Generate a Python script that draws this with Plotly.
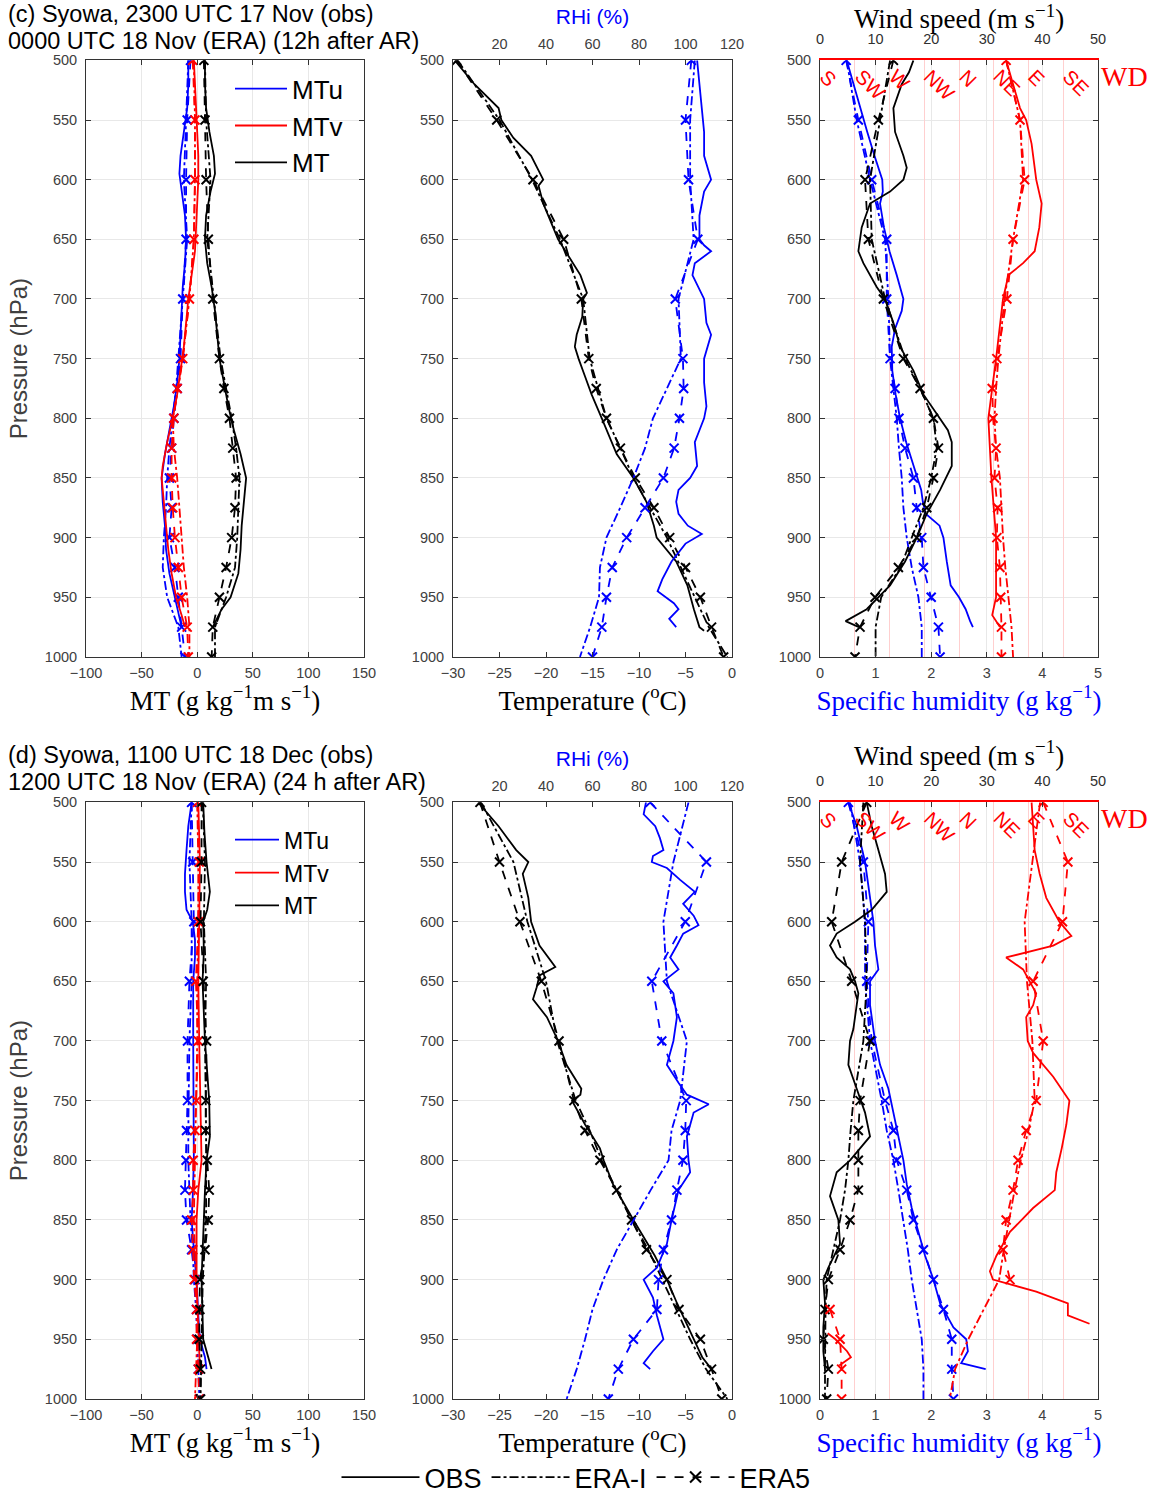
import plotly.graph_objects as go

# ---------------- data ----------------
P_ERA = [500, 550, 600, 650, 700, 750, 775, 800, 825, 850, 875, 900, 925, 950, 975, 1000]
P_TICKS = [500, 550, 600, 650, 700, 750, 800, 850, 900, 950, 1000]
MT_TICKS = [-100, -50, 0, 50, 100, 150]
T_TICKS = [-30, -25, -20, -15, -10, -5, 0]
RHI_TICKS = [20, 40, 60, 80, 100, 120]
Q_TICKS = [0, 1, 2, 3, 4, 5]
WS_TICKS = [0, 10, 20, 30, 40, 50]
WD_LABELS = ["S", "SW", "W", "NW", "N", "NE", "E", "SE"]
WD_DEGREES = [180, 225, 270, 315, 360, 405, 450, 495]

# ---- (c) row: MT components ----
c_mtu_obs_p = [500, 520, 540, 560, 580, 595, 610, 630, 650, 670, 690, 710, 730, 750, 770, 790, 810, 830, 850, 870, 890, 910, 930, 950, 965, 975]
c_mtu_obs = [-8, -8, -9, -12, -15, -16, -14, -11, -10, -11, -13, -14, -15, -16, -18, -21, -25, -29, -32, -31, -29, -28, -25, -20, -16, -14]
c_mtv_obs_p = [500, 520, 540, 560, 580, 600, 620, 640, 660, 680, 700, 720, 740, 760, 780, 800, 820, 840, 850, 870, 890, 910, 930, 950, 965, 975]
c_mtv_obs = [-3, -2, -1, 0, 1, 1, 0, -1, -2, -5, -8, -10, -12, -15, -18, -22, -27, -31, -32, -30, -28, -26, -23, -19, -14, -11]
c_mt_obs_p = [500, 520, 540, 560, 580, 595, 610, 630, 650, 670, 690, 710, 730, 750, 770, 790, 810, 830, 850, 870, 890, 910, 930, 950, 960, 975]
c_mt_obs = [7, 7, 8, 11, 15, 16, 12, 8, 7, 9, 13, 16, 18, 20, 24, 28, 33, 39, 44, 42, 40, 39, 37, 30, 22, 14]
c_mtu_erai = [-8, -10, -12, -9, -13, -17, -19, -22, -25, -27, -28, -30, -31, -27, -17, -14]
c_mtv_erai = [-3, -2, -2, -3, -7, -13, -17, -22, -21, -18, -16, -14, -12, -9, -7, -7]
c_mt_erai = [7, 8, 12, 9, 15, 21, 26, 31, 35, 38, 37, 36, 34, 26, 16, 16]
c_mtu_era5 = [-6, -9, -10, -10, -13, -15, -18, -21, -23, -25, -23, -25, -20, -17, -14, -11]
c_mtv_era5 = [-4, -2, -2, -3, -7, -13, -18, -21, -23, -23, -22, -20, -17, -14, -9, -8]
c_mt_era5 = [6, 7, 8, 10, 14, 20, 24, 29, 32, 35, 34, 31, 26, 20, 14, 13]

# ---- (c) row: temperature and RHi ----
c_t_obs_p = [500, 520, 540, 550, 565, 580, 600, 605, 620, 635, 650, 665, 680, 695, 700, 715, 730, 740, 750, 765, 780, 800, 815, 830, 850, 870, 890, 900, 920, 940, 960, 975, 978]
c_t_obs = [-29.8, -27.7, -25.1, -24.8, -23.5, -21.6, -20.3, -20.8, -20.3, -19.5, -18.7, -17.5, -16.3, -15.6, -16.0, -16.1, -16.7, -16.9, -16.5, -15.8, -15.1, -14.0, -13.2, -12.4, -10.6, -9.2, -8.4, -8.1, -6.0, -4.8, -4.1, -3.5, -3.0]
c_t_erai = [-29.5, -25.0, -21.5, -18.5, -16.0, -15.3, -14.4, -13.5, -12.0, -10.6, -8.8, -7.0, -5.5, -4.0, -2.5, -0.5]
c_t_era5 = [-29.6, -25.3, -21.4, -18.1, -16.2, -15.4, -14.6, -13.5, -12.0, -10.4, -8.4, -6.7, -5.0, -3.4, -2.2, -0.9]
c_rhi_obs_p = [500, 520, 540, 560, 580, 600, 610, 630, 650, 655, 660, 670, 680, 700, 720, 730, 750, 770, 790, 800, 810, 820, 840, 850, 860, 870, 880, 890, 897, 905, 920, 935, 945, 955, 960, 968, 975]
c_rhi_obs = [105, 106, 107, 108, 108, 111, 108, 106, 106, 108, 111, 104, 103, 108, 109, 111, 108, 108, 109, 108, 106, 104, 105, 102, 97, 96, 97, 101, 107, 100, 94, 90, 88, 95, 97, 93, 96]
c_rhi_erai = [104, 102, 102, 103.5, 97, 98, 92, 86, 82.6, 77.6, 71.9, 66, 63.2, 62.8, 59, 54.6]
c_rhi_era5 = [102.5, 100, 101.3, 105.3, 95.6, 98.9, 99.2, 97.4, 95.1, 90.5, 82.6, 74.7, 68.5, 66, 64, 60]

# ---- (c) row: specific humidity, wind speed, wind direction ----
c_q_obs_p = [500, 520, 540, 560, 580, 600, 610, 620, 640, 660, 680, 700, 710, 725, 740, 760, 780, 800, 820, 840, 860, 870, 880, 890, 900, 920, 940, 950, 960, 970, 975]
c_q_obs = [0.48, 0.6, 0.72, 0.85, 0.98, 1.12, 1.13, 1.08, 1.15, 1.25, 1.38, 1.5, 1.47, 1.35, 1.29, 1.30, 1.36, 1.44, 1.55, 1.68, 1.82, 1.85, 1.9, 2.15, 2.22, 2.28, 2.35, 2.5, 2.62, 2.7, 2.75]
c_q_erai = [0.48, 0.66, 0.9, 1.17, 1.23, 1.26, 1.32, 1.38, 1.42, 1.47, 1.5, 1.56, 1.65, 1.77, 1.83, 1.83]
c_q_era5 = [0.47, 0.69, 0.93, 1.2, 1.2, 1.26, 1.35, 1.42, 1.53, 1.68, 1.74, 1.83, 1.86, 2.0, 2.13, 2.16]
c_ws_obs_p = [500, 510, 520, 540, 560, 580, 590, 600, 610, 620, 640, 660, 670, 690, 700, 720, 740, 760, 780, 800, 810, 820, 840, 860, 880, 900, 920, 940, 960, 970, 975]
c_ws_obs = [16.8, 16, 14.7, 13.2, 13.5, 15, 15.6, 15, 12.6, 9, 7.5, 6.9, 7.8, 10.2, 11.7, 13.2, 14.4, 16.8, 18.6, 21.5, 23, 23.7, 23.7, 21.6, 19.2, 17.4, 15.3, 12.6, 8.4, 4.6, 7.0]
c_ws_erai = [12.6, 10.8, 9, 9.3, 11.7, 15.3, 18, 20.4, 21, 20, 18.6, 16.5, 14.5, 11, 10, 10]
c_ws_era5 = [13.2, 10.5, 8.1, 8.7, 11.4, 15, 18, 20.4, 21.3, 20.4, 19.2, 17.4, 14.1, 9.9, 7.2, 6.3]
c_wd_obs_p = [500, 520, 540, 550, 570, 600, 620, 640, 660, 670, 680, 700, 750, 800, 850, 900, 950, 965, 975]
c_wd_obs = [61, 70, 79, 87, 94, 100, 107, 104, 98, 83, 64, 57, 48, 38, 42, 48, 48, 43, 53]
c_wd_erai = [61, 79, 83, 70, 59, 51, 48, 46, 48, 53, 55, 57, 60, 64, 68, 70]
c_wd_era5 = [61, 79, 85, 70, 62, 49, 43, 44, 48, 46, 50, 49, 53, 54, 55, 55]

# ---- (d) row: MT components ----
d_mtu_obs_p = [500, 520, 540, 560, 575, 590, 600, 615, 630, 650, 700, 750, 800, 830, 850, 875, 900, 930, 950, 965, 975]
d_mtu_obs = [-5, -8, -9.6, -11, -11, -9.6, -4, -2, -2, -3.6, -3.6, -3, -3, -4, -5, -3, -0.6, 1, 2.4, 7, 8.4]
d_mtv_obs_p = [500, 550, 600, 650, 700, 750, 780, 800, 825, 850, 900, 950, 975]
d_mtv_obs = [1, 2.4, 1.8, 1, 1.8, 3, 3.9, 3.9, 1, -0.6, -0.6, 1, 2.4]
d_mt_obs_p = [500, 525, 550, 575, 590, 600, 625, 650, 700, 750, 780, 800, 825, 850, 900, 950, 965, 975]
d_mt_obs = [5.4, 6.5, 8.4, 11.4, 9, 5.4, 6, 4.8, 7, 10.8, 11.4, 8.4, 7, 6, 3.9, 5.4, 9.9, 12.9]
d_mtu_erai = [-5, -7, -5, -5, -7, -8, -8, -8, -7, -6, -4, -3, -1, 0, 1, 2]
d_mtv_erai = [0, 1, 1, 0, 0, -1, -1.5, -2, -2.5, -3, -2, -1, -0.5, 0, -1, -2]
d_mt_erai = [5, 7, 6, 8, 7, 8, 8, 8, 8, 8, 6.5, 5, 4.5, 4, 4, 3]
d_mtu_era5 = [-5, -4, -3, -7, -8.7, -8.7, -9.6, -10, -11, -9.6, -5, -2, -0.6, 0, 1, 2.4]
d_mtv_era5 = [0.3, 1.8, 1, -1.2, 1, -0.6, -2, -3.6, -3.6, -5, -4, -2.7, -0.6, -0.6, 1, 1.8]
d_mt_era5 = [3.9, 3.9, 3, 5.4, 8.4, 7.8, 7.5, 9, 10.8, 9.9, 7, 2.4, 2.4, 1.8, 3, 3]

# ---- (d) row: temperature and RHi ----
d_t_obs_p = [500, 520, 540, 550, 560, 580, 600, 620, 638, 645, 655, 665, 680, 700, 720, 740, 745, 750, 770, 790, 800, 820, 850, 880, 900, 920, 950, 965, 975]
d_t_obs = [-27.3, -25.1, -23.2, -21.9, -22.5, -21.9, -21.6, -20.7, -19.0, -20.7, -21.0, -21.4, -19.9, -18.7, -17.8, -16.2, -16.3, -17.2, -15.8, -14.2, -13.8, -12.8, -10.6, -8.3, -7.0, -5.9, -4.1, -3.2, -2.2]
d_t_erai = [-27.0, -23.5, -22.0, -20.0, -18.8, -16.8, -15.3, -14.0, -12.4, -10.8, -9.0, -7.5, -6.0, -4.5, -2.8, -0.5]
d_t_era5 = [-27.1, -25.0, -22.8, -20.5, -18.6, -17.0, -15.8, -14.2, -12.4, -10.8, -9.2, -7.0, -5.7, -3.4, -2.2, -1.1]
d_rhi_obs_p = [500, 510, 520, 530, 540, 545, 550, 555, 565, 575, 585, 595, 603, 610, 620, 630, 640, 650, 660, 680, 700, 710, 720, 735, 745, 753, 760, 780, 800, 810, 825, 850, 870, 890, 900, 915, 930, 950, 960, 970, 975]
d_rhi_obs = [83, 82, 87, 89, 90.5, 86, 85.5, 92, 97.7, 104, 99, 103.5, 105.6, 99, 96.3, 93.4, 97, 90.5, 94.8, 96.3, 94.8, 93.4, 92, 97, 100.6, 110, 103.5, 100.6, 101.3, 102, 97, 94, 92, 87.7, 82, 86, 87.7, 90.5, 86, 82, 84.8]
d_rhi_erai = [101.3, 94.8, 90.5, 92, 100.6, 97.7, 94, 92.7, 85, 77.6, 70.4, 64.7, 60, 56.8, 53.2, 48.9]
d_rhi_era5 = [84.8, 109, 99.9, 85.5, 89.8, 100.3, 99.9, 98.9, 96.3, 94, 90.5, 88.4, 87.7, 77.6, 71.1, 66.8]

# ---- (d) row: specific humidity, wind speed, wind direction ----
d_q_obs_p = [500, 520, 550, 580, 600, 620, 640, 650, 670, 700, 720, 740, 760, 780, 800, 820, 840, 860, 880, 900, 920, 940, 950, 960, 970, 975]
d_q_obs = [0.51, 0.66, 0.81, 0.9, 0.96, 0.99, 1.05, 0.9, 0.9, 0.99, 1.08, 1.23, 1.32, 1.41, 1.5, 1.56, 1.65, 1.77, 1.89, 2.04, 2.16, 2.4, 2.63, 2.66, 2.54, 2.98]
d_q_erai = [0.54, 0.72, 0.81, 0.81, 0.9, 1.11, 1.2, 1.32, 1.41, 1.5, 1.58, 1.65, 1.74, 1.83, 1.86, 1.86]
d_q_era5 = [0.51, 0.78, 0.87, 0.84, 0.93, 1.17, 1.32, 1.38, 1.56, 1.68, 1.86, 2.04, 2.22, 2.37, 2.37, 2.4]
d_ws_obs_p = [500, 520, 540, 560, 575, 590, 600, 610, 620, 630, 640, 650, 660, 670, 690, 700, 720, 740, 760, 780, 800, 810, 830, 850, 870, 890, 900, 920, 940, 960, 975]
d_ws_obs = [8.4, 9.3, 10.5, 11.7, 12, 9.3, 6.3, 3, 1.8, 3, 5.4, 6.3, 6.9, 6.6, 6, 5.4, 5.1, 6.6, 8.1, 9, 5.4, 3, 1.8, 3.3, 3.6, 1.5, 0.6, 0.9, 0.6, 0.6, 0.9]
d_ws_erai = [7.8, 7.2, 8.1, 8.4, 7.8, 6, 5.5, 5.1, 4.5, 3.6, 2.4, 1.2, 1.0, 0.9, 0.9, 0.9]
d_ws_era5 = [8.4, 3.9, 2.1, 5.7, 9, 7.2, 6.9, 6.9, 6.9, 5.4, 3.6, 1.5, 0.9, 0.6, 1.5, 1.2]
d_wd_obs_p = [500, 520, 540, 560, 580, 600, 612, 620, 630, 640, 660, 670, 680, 700, 710, 730, 750, 770, 790, 810, 825, 840, 860, 880, 893, 900, 910, 920, 930, 937, 945, 950, 960, 965, 972]
d_wd_obs = [94, 96, 98, 104.5, 113, 130, 145.5, 122, 61, 83, 100, 96, 87, 89, 96, 122, 143, 139, 133, 126, 124, 96, 66, 48.5, 40, 44, 100, 141, 141, 169, 190, 200, 215, 220, 205]
d_wd_erai = [105, 95, 85, 88, 95, 98, 90, 80, 72, 65, 58, 52, 32, 12, 355, 348]
d_wd_era5 = [109, 141, 134, 96, 109, 100, 87, 76.5, 70, 61, 57, 66, 193, 206, 208, 208]

# ---------------- styling ----------------
W, H = 1152, 1502
BLUE, RED, BLACK = "#0000ff", "#ff0000", "#000000"
PINK = "#ffcfcf"
LW = 1.8
SANS = "Liberation Sans, Arial, Helvetica, sans-serif"
SERIF = "Liberation Serif, Times New Roman, serif"
TICKFONT = dict(family=SANS, size=14.5, color="#404040")
TITLE_SERIF = 27
COLS = [(86, 364), (453, 732), (820, 1098)]
ROWS = [(61, 664), (811, 1414)]


def xdom(c):
    return [COLS[c][0] / W, COLS[c][1] / W]


def ydom(r):
    return [1 - ROWS[r][1] / H, 1 - ROWS[r][0] / H]


def wd_to_axis(degs):
    # map meteorological direction onto the S..S (180..540) axis
    return [d if d >= 180 else d + 360 for d in degs]


def break_wraps(vals, ps):
    xs, ys = [], []
    for i, (v, p) in enumerate(zip(vals, ps)):
        if i > 0 and abs(v - vals[i - 1]) > 180:
            xs.append(None)
            ys.append(None)
        xs.append(v)
        ys.append(p)
    return xs, ys


fig = go.Figure()


def add_obs(x, p, color, xa, ya, name=None, legend=None):
    fig.add_trace(go.Scatter(
        x=x, y=p, mode="lines", line=dict(color=color, width=LW),
        xaxis=xa, yaxis=ya, name=name, showlegend=legend is not None,
        legend=legend if legend else "legend", legendgroup=name, hoverinfo="skip"))


def add_erai(x, p, color, xa, ya):
    fig.add_trace(go.Scatter(
        x=x, y=p, mode="lines", line=dict(color=color, width=LW, dash="dashdot"),
        xaxis=xa, yaxis=ya, showlegend=False, hoverinfo="skip"))


def add_era5(x, p, color, xa, ya):
    fig.add_trace(go.Scatter(
        x=x, y=p, mode="lines+markers", line=dict(color=color, width=LW, dash="dash"),
        marker=dict(symbol="x-thin", size=9, line=dict(width=2, color=color), color=color),
        xaxis=xa, yaxis=ya, showlegend=False, hoverinfo="skip"))


rows_data = [
    dict(ax=("x", "y", "x2", "y2", "x3", "y3", "x7", "x9", "x11"), leg="legend",
         mtu=(c_mtu_obs_p, c_mtu_obs, c_mtu_erai, c_mtu_era5),
         mtv=(c_mtv_obs_p, c_mtv_obs, c_mtv_erai, c_mtv_era5),
         mt=(c_mt_obs_p, c_mt_obs, c_mt_erai, c_mt_era5),
         t=(c_t_obs_p, c_t_obs, c_t_erai, c_t_era5),
         rhi=(c_rhi_obs_p, c_rhi_obs, c_rhi_erai, c_rhi_era5),
         q=(c_q_obs_p, c_q_obs, c_q_erai, c_q_era5),
         ws=(c_ws_obs_p, c_ws_obs, c_ws_erai, c_ws_era5),
         wd=(c_wd_obs_p, c_wd_obs, c_wd_erai, c_wd_era5)),
    dict(ax=("x4", "y4", "x5", "y5", "x6", "y6", "x8", "x10", "x12"), leg="legend2",
         mtu=(d_mtu_obs_p, d_mtu_obs, d_mtu_erai, d_mtu_era5),
         mtv=(d_mtv_obs_p, d_mtv_obs, d_mtv_erai, d_mtv_era5),
         mt=(d_mt_obs_p, d_mt_obs, d_mt_erai, d_mt_era5),
         t=(d_t_obs_p, d_t_obs, d_t_erai, d_t_era5),
         rhi=(d_rhi_obs_p, d_rhi_obs, d_rhi_erai, d_rhi_era5),
         q=(d_q_obs_p, d_q_obs, d_q_erai, d_q_era5),
         ws=(d_ws_obs_p, d_ws_obs, d_ws_erai, d_ws_era5),
         wd=(d_wd_obs_p, d_wd_obs, d_wd_erai, d_wd_era5)),
]

for rd in rows_data:
    x1, y1, x2, y2, x3, y3, xr, xw, xd = rd["ax"]
    for key, col, nm in (("mtu", BLUE, "MTu"), ("mtv", RED, "MTv"), ("mt", BLACK, "MT")):
        po, vo, vi, v5 = rd[key]
        add_erai(vi, P_ERA, col, x1, y1)
        add_era5(v5, P_ERA, col, x1, y1)
        add_obs(vo, po, col, x1, y1, name=nm, legend=rd["leg"])
    po, vo, vi, v5 = rd["rhi"]
    add_erai(vi, P_ERA, BLUE, xr, y2)
    add_era5(v5, P_ERA, BLUE, xr, y2)
    add_obs(vo, po, BLUE, xr, y2)
    po, vo, vi, v5 = rd["t"]
    add_erai(vi, P_ERA, BLACK, x2, y2)
    add_era5(v5, P_ERA, BLACK, x2, y2)
    add_obs(vo, po, BLACK, x2, y2)
    po, vo, vi, v5 = rd["q"]
    add_erai(vi, P_ERA, BLUE, x3, y3)
    add_era5(v5, P_ERA, BLUE, x3, y3)
    add_obs(vo, po, BLUE, x3, y3)
    po, vo, vi, v5 = rd["ws"]
    add_erai(vi, P_ERA, BLACK, xw, y3)
    add_era5(v5, P_ERA, BLACK, xw, y3)
    add_obs(vo, po, BLACK, xw, y3)
    po, vo, vi, v5 = rd["wd"]
    xx, yy = break_wraps(wd_to_axis(vi), P_ERA)
    add_erai(xx, yy, RED, xd, y3)
    xx, yy = break_wraps(wd_to_axis(v5), P_ERA)
    add_era5(xx, yy, RED, xd, y3)
    xx, yy = break_wraps(wd_to_axis(vo), po)
    add_obs(xx, yy, RED, xd, y3)

# bottom legend entries
fig.add_trace(go.Scatter(x=[None], y=[None], mode="lines", line=dict(color=BLACK, width=LW),
                         name="OBS", legend="legend3", xaxis="x", yaxis="y"))
fig.add_trace(go.Scatter(x=[None], y=[None], mode="lines", line=dict(color=BLACK, width=LW, dash="dashdot"),
                         name="ERA-I", legend="legend3", xaxis="x", yaxis="y"))
fig.add_trace(go.Scatter(x=[None], y=[None], mode="lines+markers", line=dict(color=BLACK, width=LW, dash="dash"),
                         marker=dict(symbol="x-thin", size=11, line=dict(width=2, color=BLACK)),
                         name="ERA5", legend="legend3", xaxis="x", yaxis="y"))

# ---------------- axes ----------------
AX = dict(showline=True, linecolor="#333333", linewidth=1, ticks="inside", ticklen=5,
          tickcolor="#333333", tickfont=TICKFONT, gridcolor="#e8e8e8", zeroline=False,
          automargin=False)

layout = {}
for r in range(2):
    for c in range(3):
        i = r * 3 + c + 1
        sfx = "" if i == 1 else str(i)
        xid, yid = "x" + sfx, "y" + sfx
        yax = dict(AX, domain=ydom(r), anchor=xid, range=[1000, 500], tickvals=P_TICKS,
                   mirror="ticks", showgrid=True, ticklabelstandoff=5)
        if c == 0:
            yax["title"] = dict(text="Pressure (hPa)", font=dict(family=SANS, size=24, color="#404040"),
                                standoff=10)
        layout["yaxis" + sfx] = yax
        if c == 0:
            xax = dict(AX, domain=xdom(c), anchor=yid, range=[-100, 150], tickvals=MT_TICKS,
                       mirror="ticks", showgrid=True, ticklabelstandoff=3,
                       title=dict(text="MT (g kg<sup>−1</sup>m s<sup>−1</sup>)",
                                  font=dict(family=SERIF, size=TITLE_SERIF, color="black"), standoff=4))
        elif c == 1:
            xax = dict(AX, domain=xdom(c), anchor=yid, range=[-30, 0], tickvals=T_TICKS,
                       mirror=True, showgrid=False, ticklabelstandoff=3,
                       title=dict(text="Temperature (<sup>o</sup>C)",
                                  font=dict(family=SERIF, size=TITLE_SERIF, color="black"), standoff=4))
        else:
            xax = dict(AX, domain=xdom(c), anchor=yid, range=[0, 5], tickvals=Q_TICKS,
                       mirror=False, showgrid=True, ticklabelstandoff=3,
                       title=dict(text="Specific humidity (g kg<sup>−1</sup>)",
                                  font=dict(family=SERIF, size=TITLE_SERIF, color=BLUE), standoff=4))
        layout["xaxis" + sfx] = xax

for r in range(2):
    base2 = "x2" if r == 0 else "x5"
    base3 = "x3" if r == 0 else "x6"
    y2 = "y2" if r == 0 else "y5"
    y3 = "y3" if r == 0 else "y6"
    layout["xaxis" + str(7 + r)] = dict(
        AX, overlaying=base2, anchor=y2, side="top", domain=xdom(1), range=[0, 120],
        tickvals=RHI_TICKS, showgrid=False, showline=False, ticklabelstandoff=7,
        title=dict(text="RHi (%)", font=dict(family=SANS, size=21, color=BLUE), standoff=6))
    layout["xaxis" + str(9 + r)] = dict(
        AX, overlaying=base3, anchor=y3, side="top", domain=xdom(2), range=[0, 50],
        tickvals=WS_TICKS, showgrid=False, showline=False, ticklabelstandoff=12,
        tickfont=dict(family=SANS, size=14.5, color="#303030"),
        title=dict(text="Wind speed (m s<sup>−1</sup>)",
                   font=dict(family=SERIF, size=TITLE_SERIF, color="black"), standoff=0))
    layout["xaxis" + str(11 + r)] = dict(
        overlaying=base3, anchor=y3, side="top", domain=xdom(2), range=[180, 540],
        tickvals=WD_DEGREES[1:], showticklabels=False, ticks="", showgrid=True, gridcolor=PINK,
        gridwidth=1, showline=True, linecolor=RED, linewidth=1.5, zeroline=False, automargin=False)

annotations = []
titles = [("(c) Syowa, 2300 UTC 17 Nov (obs)", "0000 UTC 18 Nov (ERA) (12h after AR)", 14, 41),
          ("(d) Syowa, 1100 UTC 18 Dec (obs)", "1200 UTC 18 Nov (ERA) (24 h after AR)", 763, 790)]
for l1, l2, ya, yb in titles:
    for txt, yy in ((l1, ya), (l2, yb)):
        annotations.append(dict(text=txt, xref="paper", yref="paper", x=6 / W, y=1 - yy / H,
                                xanchor="left", yanchor="middle", showarrow=False,
                                font=dict(family=SANS, size=23.5, color="black")))

for r in range(2):
    xd = "x11" if r == 0 else "x12"
    yd = "y3" if r == 0 else "y6"
    for lab, deg in zip(WD_LABELS, WD_DEGREES):
        annotations.append(dict(text=lab, xref=xd, yref=yd, x=deg, y=500, xanchor="left",
                                yanchor="top", textangle=45, showarrow=False, xshift=-7, yshift=-2,
                                font=dict(family=SANS, size=20, color=RED)))
    annotations.append(dict(text="WD", xref="paper", yref="paper", x=1099 / W,
                            y=1 - (77 if r == 0 else 827) / H, xanchor="left", yanchor="middle",
                            showarrow=False, font=dict(family=SERIF, size=28, color=RED)))

fig.update_layout(
    width=W, height=H, margin=dict(l=0, r=0, t=0, b=0),
    paper_bgcolor="white", plot_bgcolor="white",
    annotations=annotations,
    legend=dict(x=230 / W, y=1 - 66 / H, xanchor="left", yanchor="top", bgcolor="rgba(0,0,0,0)",
                font=dict(family=SANS, size=26, color="black"), itemwidth=52, tracegroupgap=6,
                traceorder="normal"),
    legend2=dict(x=230 / W, y=1 - 827 / H, xanchor="left", yanchor="top", bgcolor="rgba(0,0,0,0)",
                 font=dict(family=SANS, size=23, color="black"), itemwidth=44, tracegroupgap=3,
                 traceorder="normal"),
    legend3=dict(orientation="h", x=0.5, xanchor="center", y=1 - 1469 / H, yanchor="top",
                 bgcolor="rgba(0,0,0,0)", font=dict(family=SANS, size=27, color="black"),
                 itemwidth=78, traceorder="normal"),
    **layout,
)

fig.write_html("out.html")
